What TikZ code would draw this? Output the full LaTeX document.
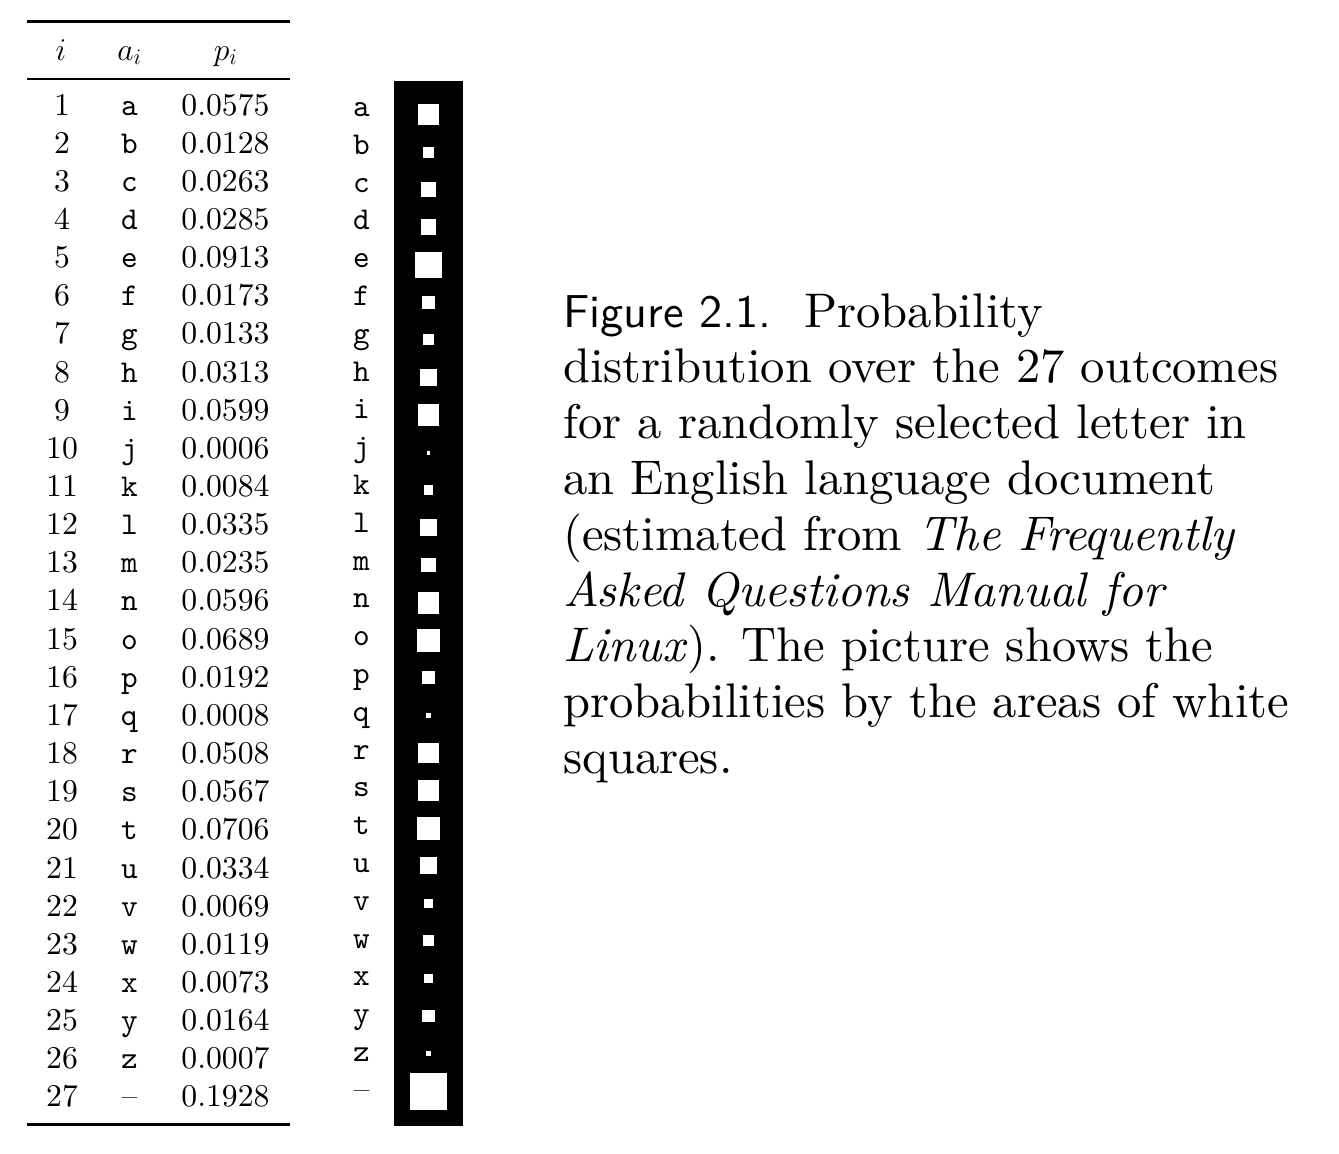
\RequirePackage{fix-cm}
\documentclass[tikz,border=0pt]{standalone}
\usepackage{fontspec}
\setmainfont{lmroman10-regular.otf}[ItalicFont=lmroman10-italic.otf,BoldFont=lmroman10-bold.otf]
\setsansfont{lmsans10-regular.otf}
\setmonofont{lmmono10-regular.otf}
\begin{document}
\begin{tikzpicture}[x=1pt,y=-1pt,
  tab/.style={font=\fontsize{31.7}{38}\selectfont, anchor=base, inner sep=0pt},
  sqbox/.style={fill=white, draw=none, inner sep=0pt, minimum size=#1},
  captext/.style={font=\fontsize{48.6}{56}\selectfont, anchor=base west, inner sep=0pt},
  capsans/.style={font=\fontsize{46.2}{56}\selectfont\sffamily, anchor=base west, inner sep=0pt},
  thickrule/.style={line width=3pt},
  thinrule/.style={line width=1.5pt}]
\fill[white] (0,0) rectangle (1339,1154);
\useasboundingbox (0,0) rectangle (1339,1154);
% table rules
\coordinate (r1a) at (27,21.5);   \coordinate (r1b) at (290,21.5);
\coordinate (r2a) at (27,78.8);   \coordinate (r2b) at (290,78.8);
\coordinate (r3a) at (27,1124.3); \coordinate (r3b) at (290,1124.3);
\draw[thickrule] (r1a) -- (r1b);
\draw[thinrule] (r2a) -- (r2b);
\draw[thickrule] (r3a) -- (r3b);
% header
\node[tab] (hi) at (61,60) {$i$};
\node[tab] (ha) at (129.5,60) {$a_i$};
\node[tab] (hp) at (225.5,60) {$p_i$};
% black strip
\node[fill=black, draw=none, inner sep=0pt, minimum width=69pt, minimum height=1045pt] (box) at (428.5,603.5) {};
% rows
\foreach \n/\lt/\pv in {1/a/0.0575, 2/b/0.0128, 3/c/0.0263, 4/d/0.0285, 5/e/0.0913,
  6/f/0.0173, 7/g/0.0133, 8/h/0.0313, 9/i/0.0599, 10/j/0.0006, 11/k/0.0084,
  12/l/0.0335, 13/m/0.0235, 14/n/0.0596, 15/o/0.0689, 16/p/0.0192, 17/q/0.0008,
  18/r/0.0508, 19/s/0.0567, 20/t/0.0706, 21/u/0.0334, 22/v/0.0069, 23/w/0.0119,
  24/x/0.0073, 25/y/0.0164, 26/z/0.0007} {
  \pgfmathsetmacro\yb{115+38.15*(\n-1)}
  \pgfmathsetmacro\ys{114.5+37.56*(\n-1)}
  \pgfmathsetmacro\yl{116.5+37.8*(\n-1)}
  \pgfmathsetmacro\side{80*sqrt(\pv)+2}
  \node[tab] (i\n) at (62,\yb) {\n};
  \node[tab] (a\n) at (129.5,\yb) {\texttt{\lt}};
  \node[tab] (p\n) at (225.5,\yb) {\pv};
  \node[tab] (l\n) at (361.5,\yl) {\texttt{\lt}};
  \node[sqbox=\side pt] (s\n) at (428.5,\ys) {};
}
% row 27 (space)
\pgfmathsetmacro\yb{115+38.15*26}
\pgfmathsetmacro\ys{114.5+37.56*26}
\pgfmathsetmacro\yl{116.5+37.8*26}
\pgfmathsetmacro\side{80*sqrt(0.1928)+2}
\node[tab] (i27) at (62,\yb) {27};
\node[tab] (a27) at (129.5,\yb) {--};
\node[tab] (p27) at (225.5,\yb) {0.1928};
\node[tab] (l27) at (361.5,\yl) {--};
\node[sqbox=\side pt] (s27) at (428.5,\ys) {};
% caption
\node[capsans] (c1a) at (563,327)  {Figure 2.1.};
\node[captext] (c1b) at (804,327)  {Probability};
\node[captext] (c2) at (563,382.8) {distribution over the 27 outcomes};
\node[captext] (c3) at (563,438.6) {for a randomly selected letter in};
\node[captext] (c4) at (563,494.4) {an English language document};
\node[captext] (c5) at (563,550.2) {(estimated from \textit{The Frequently}};
\node[captext] (c6) at (563,606.0) {\textit{Asked Questions Manual for}};
\node[captext] (c7) at (563,661.8) {\textit{Linux}). The picture shows the};
\node[captext] (c8) at (563,717.6) {probabilities by the areas of white};
\node[captext] (c9) at (563,773.4) {squares.};
\end{tikzpicture}
\end{document}
